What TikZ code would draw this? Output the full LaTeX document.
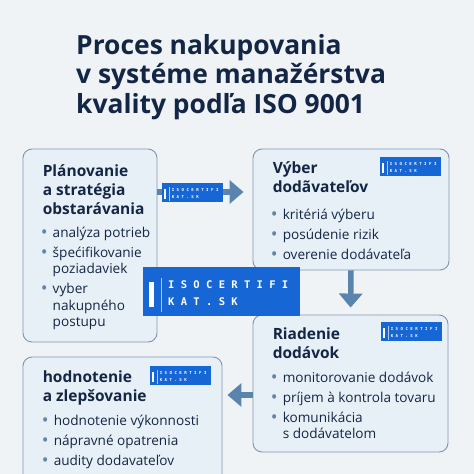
\documentclass[tikz,border=0pt]{standalone}
\usepackage{fontspec}
\setmainfont{Open Sans}
\setmonofont{DejaVu Sans Mono}
\usetikzlibrary{positioning,arrows.meta}

\definecolor{bgc}{RGB}{239,243,246}
\definecolor{boxfill}{RGB}{232,240,247}
\definecolor{boxline}{RGB}{128,150,176}
\definecolor{navy}{RGB}{20,38,70}
\definecolor{steel}{RGB}{88,132,173}
\definecolor{dotc}{RGB}{98,132,168}
\definecolor{wmblue}{RGB}{22,102,214}

\newlength{\bw}\setlength{\bw}{12pt}
\newcommand{\bul}{\makebox[\bw][l]{\raisebox{-1.2pt}{\textcolor{dotc}{\fontsize{18}{18}\selectfont •}}}}
\newcommand{\cont}{\hspace*{\bw}}

\tikzset{
  stage/.style={draw=boxline, line width=0.9pt, fill=boxfill, rounded corners=9pt, inner sep=0pt},
  stagetitle/.style={inner sep=0pt, align=left, text=navy, font=\fontsize{15.5}{19}\selectfont\bfseries},
  stagelist/.style={inner sep=0pt, align=left, text=navy, font=\fontsize{13.6}{16.5}\selectfont},
  flow/.style={draw=steel, line width=5.5pt, -{Triangle[width=23pt,length=14pt]}},
  wm/.style={fill=wmblue, inner sep=0pt},
  wmark/.pic={
    \node[wm, minimum width=157pt, minimum height=49pt, anchor=north west] (-bg) at (0,0) {};
    \fill[white] (6,15) rectangle (11,40);
    \draw[white!65!wmblue, line width=0.6pt] (18,11) -- (18,45);
    \node[anchor=west, inner sep=0pt, text=white, font=\ttfamily\bfseries\fontsize{10.5}{10.5}\selectfont] (-l1) at (25,18) {I S O C E R T I F I};
    \node[anchor=west, inner sep=0pt, text=white, font=\ttfamily\bfseries\fontsize{10.5}{10.5}\selectfont] (-l2) at (25,35) {K A T . S K};
  }
}

\begin{document}
\begin{tikzpicture}[x=1pt, y=-1pt]
  \useasboundingbox (0,0) rectangle (474,474);
  \fill[bgc] (0,0) rectangle (474,474);

  % title
  \node[anchor=north west, inner sep=0pt, align=left, text=navy,
        font=\fontsize{26.4}{29.5}\selectfont\bfseries] (title) at (76,34)
        {Proces nakupovania\\v systéme manažérstva\\kvality podľa ISO 9001};

  % the four stages
  \node[stage, minimum width=134pt, minimum height=193pt] (plan) at (90,245.5) {};
  \node[stage, minimum width=196pt, minimum height=121pt] (vyber) at (351,209.5) {};
  \node[stage, minimum width=195pt, minimum height=137pt] (riad) at (350.5,383.5) {};
  \node[stage, minimum width=199pt, minimum height=128pt] (hodn) at (122.5,421) {};

  \node[stagetitle, below right=16pt and 20pt of plan.north west] (planT)
    {Plánovanie\\a stratégia\\obstarávania};
  \node[stagelist, below right=78pt and 18pt of plan.north west] (planL)
    {\bul analýza potrieb\\[3.5pt]
     \bul špećifikovanie\\ \cont poziadaviek\\[3.5pt]
     \bul vyber\\ \cont nakupného\\ \cont postupu};

  \node[stagetitle, below right=13pt and 20pt of vyber.north west] (vyberT)
    {Výber\\dodãvateľov};
  \node[stagelist, below right=60pt and 18pt of vyber.north west] (vyberL)
    {\bul kritériá výberu\\[3.5pt]
     \bul posúdenie rizik\\[3.5pt]
     \bul overenie dodávateľa};

  \node[stagetitle, below right=13pt and 20pt of riad.north west] (riadT)
    {Riadenie\\dodávok};
  \node[stagelist, below right=57pt and 18pt of riad.north west] (riadL)
    {\bul monitorovanie dodávok\\[3.5pt]
     \bul príjem à kontrola tovaru\\[3.5pt]
     \bul komunikácia\\ \cont s dodávatelom};

  \node[stagetitle, below right=14pt and 20pt of hodn.north west] (hodnT)
    {hodnotenie\\a zlepšovanie};
  \node[stagelist, below right=58pt and 19pt of hodn.north west] (hodnL)
    {\bul hodnotenie výkonnosti\\[3.5pt]
     \bul nápravné opatrenia\\[3.5pt]
     \bul audity dodavateľov};

  % flow
  \draw[flow, shorten >=9pt] ([yshift=53.5pt]plan.east) -- ([yshift=17.5pt]vyber.west);
  \draw[flow, shorten >=7pt] (vyber.south) -- (riad.north);
  \draw[flow, shorten >=5pt] ([yshift=-11.5pt]riad.west) -- ([yshift=-11.5pt]riad.west -| hodn.east);

  % marks
  \pic[scale=0.389, transform shape] (wmA) at (162,183) {wmark};
  \pic (wmB) at (143,267) {wmark};
  \pic[scale=0.389, transform shape] (wmC) at (380,157) {wmark};
  \pic[scale=0.389, transform shape] (wmD) at (381,322) {wmark};
  \pic[scale=0.389, transform shape] (wmE) at (150,366) {wmark};
\end{tikzpicture}
\end{document}
